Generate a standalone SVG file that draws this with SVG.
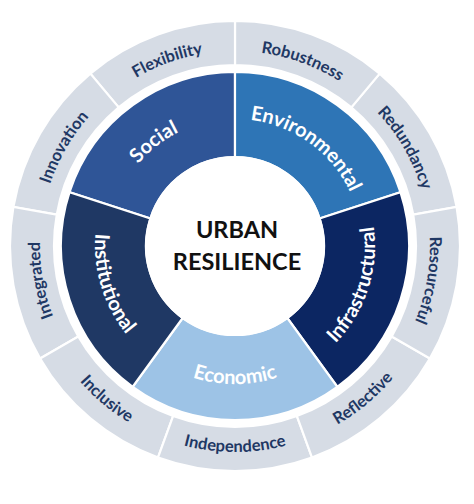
<svg xmlns="http://www.w3.org/2000/svg" width="474" height="504" viewBox="0 0 474 504">
<style>
.seg{stroke:#fff;stroke-width:2.2;stroke-linejoin:miter}
.outer{fill:#D6DCE5}
.olab{font-family:Lato,"Open Sans","DejaVu Sans",sans-serif;font-weight:bold;font-size:16.5px;fill:#1F3864}
.ilab{font-family:Lato,"Open Sans","DejaVu Sans",sans-serif;font-weight:bold;font-size:20px;fill:#fff}
.ctr{font-family:Lato,"Open Sans","DejaVu Sans",sans-serif;font-weight:bold;font-size:23.5px;fill:#111}
</style>
<defs>
<path id="pRedundancy" d="M168.31,62.76 A195,195 0 0 1 360.34,395.38"/>
<path id="pRobustness" d="M66.12,148.5 A195,195 0 0 1 427.04,279.86"/>
<path id="pFlexibility" d="M42.96,279.86 A195,195 0 0 1 403.88,148.5"/>
<path id="pInnovation" d="M109.66,395.38 A195,195 0 0 1 301.69,62.76"/>
<path id="pIntegrated" d="M235,441 A195,195 0 0 1 168.31,62.76"/>
<path id="pResourceful" d="M301.69,62.76 A195,195 0 0 1 235,441"/>
<path id="pInclusive" d="M56.6,143 A206,206 0 0 0 367.41,403.8"/>
<path id="pIndependence" d="M32.13,281.77 A206,206 0 0 0 437.87,281.77"/>
<path id="pReflective" d="M102.59,403.8 A206,206 0 0 0 413.4,143"/>
<path id="pSocial" d="M122.87,305.62 A127,127 0 0 1 319.98,151.62"/>
<path id="pEnvironmental" d="M146.78,154.64 A127,127 0 0 1 349.15,301.67"/>
<path id="pInstitutional" d="M171.44,121.26 A140,140 0 0 0 252.06,384.96"/>
<path id="pEconomic" d="M99.09,269.96 A138,138 0 0 0 370.91,269.96"/>
<path id="pInfrastructural" d="M215.52,384.64 A140,140 0 0 0 300.73,122.39"/>
</defs>
<rect width="474" height="504" fill="#fff"/>

<g id="redundancy">
<path class="seg outer" d="M456.58,206.93 A225,225 0 0 0 379.63,73.64 L351.34,107.35 A181,181 0 0 1 413.25,214.57 Z"/>
<text class="olab"><textPath href="#pRedundancy" startOffset="50%" text-anchor="middle">Redundancy</textPath></text>
</g>
<g id="robustness">
<path class="seg outer" d="M379.63,73.64 A225,225 0 0 0 235,21 L235,65 A181,181 0 0 1 351.34,107.35 Z"/>
<text class="olab"><textPath href="#pRobustness" startOffset="50%" text-anchor="middle">Robustness</textPath></text>
</g>
<g id="flexibility">
<path class="seg outer" d="M235,21 A225,225 0 0 0 90.37,73.64 L118.66,107.35 A181,181 0 0 1 235,65 Z"/>
<text class="olab"><textPath href="#pFlexibility" startOffset="50%" text-anchor="middle">Flexibility</textPath></text>
</g>
<g id="innovation">
<path class="seg outer" d="M90.37,73.64 A225,225 0 0 0 13.42,206.93 L56.75,214.57 A181,181 0 0 1 118.66,107.35 Z"/>
<text class="olab"><textPath href="#pInnovation" startOffset="50%" text-anchor="middle">Innovation</textPath></text>
</g>
<g id="integrated">
<path class="seg outer" d="M13.42,206.93 A225,225 0 0 0 40.14,358.5 L78.25,336.5 A181,181 0 0 1 56.75,214.57 Z"/>
<text class="olab"><textPath href="#pIntegrated" startOffset="50%" text-anchor="middle">Integrated</textPath></text>
</g>
<g id="inclusive">
<path class="seg outer" d="M40.14,358.5 A225,225 0 0 0 158.05,457.43 L173.09,416.08 A181,181 0 0 1 78.25,336.5 Z"/>
<text class="olab"><textPath href="#pInclusive" startOffset="50%" text-anchor="middle">Inclusive</textPath></text>
</g>
<g id="independence">
<path class="seg outer" d="M158.05,457.43 A225,225 0 0 0 311.95,457.43 L296.91,416.08 A181,181 0 0 1 173.09,416.08 Z"/>
<text class="olab"><textPath href="#pIndependence" startOffset="50%" text-anchor="middle">Independence</textPath></text>
</g>
<g id="reflective">
<path class="seg outer" d="M311.95,457.43 A225,225 0 0 0 429.86,358.5 L391.75,336.5 A181,181 0 0 1 296.91,416.08 Z"/>
<text class="olab"><textPath href="#pReflective" startOffset="50%" text-anchor="middle">Reflective</textPath></text>
</g>
<g id="resourceful">
<path class="seg outer" d="M429.86,358.5 A225,225 0 0 0 456.58,206.93 L413.25,214.57 A181,181 0 0 1 391.75,336.5 Z"/>
<text class="olab"><textPath href="#pResourceful" startOffset="50%" text-anchor="middle">Resourceful</textPath></text>
</g>

<g id="social">
<path class="seg" fill="#2F5597" d="M235,72 A174,174 0 0 0 69.52,192.23 L150.36,218.5 A89,89 0 0 1 235,157 Z"/>
<text class="ilab"><textPath href="#pSocial" startOffset="50%" text-anchor="middle">Social</textPath></text>
</g>
<g id="environmental">
<path class="seg" fill="#2E75B6" d="M400.48,192.23 A174,174 0 0 0 235,72 L235,157 A89,89 0 0 1 319.64,218.5 Z"/>
<text class="ilab"><textPath href="#pEnvironmental" startOffset="50%" text-anchor="middle">Environmental</textPath></text>
</g>
<g id="infrastructural">
<path class="seg" fill="#0C2662" d="M337.28,386.77 A174,174 0 0 0 400.48,192.23 L319.64,218.5 A89,89 0 0 1 287.31,318 Z"/>
<text class="ilab"><textPath href="#pInfrastructural" startOffset="50%" text-anchor="middle">Infrastructural</textPath></text>
</g>
<g id="economic">
<path class="seg" fill="#9DC3E6" d="M132.72,386.77 A174,174 0 0 0 337.28,386.77 L287.31,318 A89,89 0 0 1 182.69,318 Z"/>
<text class="ilab"><textPath href="#pEconomic" startOffset="50%" text-anchor="middle">Economic</textPath></text>
</g>
<g id="institutional">
<path class="seg" fill="#1F3864" d="M69.52,192.23 A174,174 0 0 0 132.72,386.77 L182.69,318 A89,89 0 0 1 150.36,218.5 Z"/>
<text class="ilab"><textPath href="#pInstitutional" startOffset="50%" text-anchor="middle">Institutional</textPath></text>
</g>

<g id="urban-resilience">
<circle cx="235" cy="246" r="90" fill="#fff"/>
<text class="ctr" x="237" y="238" text-anchor="middle">URBAN</text>
<text class="ctr" x="237" y="270" text-anchor="middle">RESILIENCE</text>
</g>
<g id="connectors"/>
</svg>
